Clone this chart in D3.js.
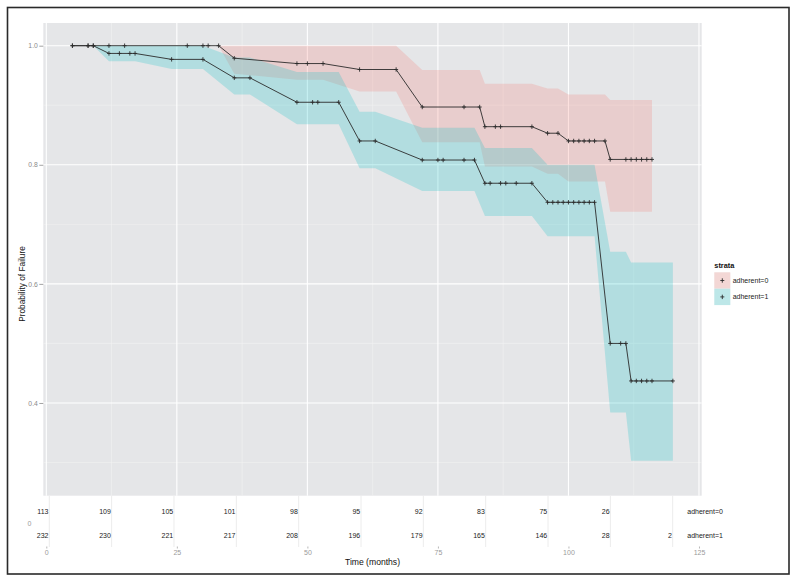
<!DOCTYPE html>
<html><head><meta charset="utf-8">
<script src="https://cdn.jsdelivr.net/npm/d3@7"></script>
<style>
html,body{margin:0;padding:0;background:#fff;}
svg{display:block;font-family:"Liberation Sans",Arial,sans-serif;}
</style></head>
<body>
<svg id="chart" width="798" height="584"></svg>
<script>
// ---------- data ----------
const strata = ["adherent=0", "adherent=1"];
const strataColors = ["#F8766D", "#00BFC4"];

const time0 = [5,8,9,12,15,27,30,31,33,36,48,50,53,60,67,72,80,83,84,86,87,93,96,98,100,101,102,103,104,105,107,108,111,112,113,114,115,116];
const surv0 = [1,1,1,1,1,1,1,1,1,0.979,0.970,0.970,0.970,0.960,0.960,0.897,0.897,0.897,0.864,0.864,0.864,0.864,0.853,0.853,0.840,0.840,0.840,0.840,0.840,0.840,0.840,0.809,0.809,0.809,0.809,0.809,0.809,0.809];
const upper0 = [1,1,1,1,1,1,1,1,1,1,1,1,1,1,1,0.959,0.959,0.959,0.936,0.936,0.936,0.936,0.928,0.928,0.918,0.918,0.918,0.918,0.918,0.918,0.918,0.909,0.909,0.909,0.909,0.909,0.909,0.909];
const lower0 = [1,1,1,1,1,1,1,1,1,0.953,0.943,0.943,0.943,0.923,0.923,0.838,0.838,0.838,0.797,0.797,0.797,0.797,0.785,0.785,0.772,0.772,0.772,0.772,0.772,0.772,0.772,0.721,0.721,0.721,0.721,0.721,0.721,0.721];

const time1 = [5,8,9,12,14,16,17,24,30,36,39,48,51,52,56,60,63,72,75,76,80,82,84,85,87,88,90,93,96,97,98,99,100,101,102,103,104,105,108,110,111,112,113,114,115,116,120];
const surv1 = [1,1,1,0.987,0.987,0.987,0.987,0.977,0.977,0.946,0.946,0.905,0.905,0.905,0.905,0.840,0.840,0.808,0.808,0.808,0.808,0.808,0.769,0.769,0.769,0.769,0.769,0.769,0.737,0.737,0.737,0.737,0.737,0.737,0.737,0.737,0.737,0.737,0.500,0.500,0.500,0.437,0.437,0.437,0.437,0.437,0.437];
const upper1 = [1,1,1,1,1,1,1,1,1,0.980,0.980,0.956,0.956,0.956,0.956,0.889,0.889,0.862,0.862,0.862,0.862,0.862,0.828,0.828,0.828,0.828,0.828,0.828,0.800,0.800,0.800,0.800,0.800,0.800,0.800,0.800,0.800,0.800,0.654,0.654,0.654,0.636,0.636,0.636,0.636,0.636,0.636];
const lower1 = [1,1,1,0.974,0.974,0.974,0.974,0.961,0.961,0.918,0.918,0.868,0.868,0.868,0.868,0.794,0.794,0.756,0.756,0.756,0.756,0.756,0.714,0.714,0.714,0.714,0.714,0.714,0.680,0.680,0.680,0.680,0.680,0.680,0.680,0.680,0.680,0.680,0.384,0.384,0.384,0.303,0.303,0.303,0.303,0.303,0.303];

const riskTimes = [0,12,24,36,48,60,72,84,96,108,120];
const risk0 = [113,109,105,101,98,95,92,83,75,26,null];
const risk1 = [232,230,221,217,208,196,179,165,146,28,2];

const xTicks = [0,25,50,75,100,125];
const yTicks = [0.4,0.6,0.8,1.0];
const xMinor = [12.5,37.5,62.5,87.5,112.5];
const yMinor = [0.3,0.5,0.7,0.9];

// ---------- layout ----------
const svg = d3.select("#chart");
const panel = {left:43.3, right:701.7, top:23, bottom:495.7};

const x = d3.scaleLinear().domain([-0.575, 125.52]).range([panel.left, panel.right]);
const y = d3.scaleLinear().domain([0.2443, 1.0381]).range([panel.bottom, panel.top]);
const xRisk = d3.scaleLinear().domain([0,120]).range([49.3, 672.7]);

// outer frame
svg.append("rect").attr("x",7.5).attr("y",7.5).attr("width",781.5).attr("height",566.5)
  .attr("fill","none").attr("stroke","#2a2a2a").attr("stroke-width",1.6);

// panel bg
svg.append("rect").attr("x",panel.left).attr("y",panel.top)
  .attr("width",panel.right-panel.left).attr("height",panel.bottom-panel.top)
  .attr("fill","#E5E6E8");

const g = svg.append("g");
// minor grid
g.selectAll(".ym").data(yMinor).join("line")
  .attr("x1",panel.left).attr("x2",panel.right)
  .attr("y1",d=>y(d)).attr("y2",d=>y(d))
  .attr("stroke","#F1F1F2").attr("stroke-width",0.6);
g.selectAll(".xm").data(xMinor).join("line")
  .attr("y1",panel.top).attr("y2",panel.bottom)
  .attr("x1",d=>x(d)).attr("x2",d=>x(d))
  .attr("stroke","#F1F1F2").attr("stroke-width",0.6);
// major grid
g.selectAll(".yM").data(yTicks).join("line")
  .attr("x1",panel.left).attr("x2",panel.right)
  .attr("y1",d=>y(d)).attr("y2",d=>y(d))
  .attr("stroke","#ffffff").attr("stroke-width",1.1);
g.selectAll(".xM").data(xTicks).join("line")
  .attr("y1",panel.top).attr("y2",panel.bottom)
  .attr("x1",d=>x(d)).attr("x2",d=>x(d))
  .attr("stroke","#ffffff").attr("stroke-width",1.1);

// series
const series = [
  {t:time0, s:surv0, u:upper0, l:lower0, color:strataColors[0]},
  {t:time1, s:surv1, u:upper1, l:lower1, color:strataColors[1]}
];
const area = d3.area().x(d=>x(d.t)).y0(d=>y(d.l)).y1(d=>y(d.u));
const line = d3.line().x(d=>x(d.t)).y(d=>y(d.s));

series.forEach(sr=>{
  sr.pts = sr.t.map((t,i)=>({t:t, s:sr.s[i], u:sr.u[i], l:sr.l[i]}));
});
series.forEach(sr=>{
  svg.append("path").attr("d",area(sr.pts)).attr("fill",sr.color).attr("fill-opacity",0.22);
});
series.forEach(sr=>{
  svg.append("path").attr("d",line(sr.pts)).attr("fill","none")
    .attr("stroke","#2b2b2b").attr("stroke-width",0.9);
  const plus = svg.append("g");
  plus.selectAll("path").data(sr.pts).join("path")
    .attr("d",d=>{const cx=x(d.t), cy=y(d.s); return `M${cx-2},${cy}H${cx+2}M${cx},${cy-2.2}V${cy+2.2}`;})
    .attr("stroke","#2b2b2b").attr("stroke-width",0.9);
});

// y axis
const yAxis = svg.append("g").attr("transform",`translate(${panel.left},0)`)
  .call(d3.axisLeft(y).tickValues(yTicks).tickFormat(d3.format(".1f")).tickSize(4).tickPadding(1.5));
yAxis.select(".domain").remove();
yAxis.selectAll(".tick line").attr("stroke","#8c8c8c").attr("stroke-width",0.8);
yAxis.selectAll("text").attr("fill","#8a8a8a").style("font-size","6.8px").attr("font-family",null);

// y title
svg.append("text").attr("transform","translate(24.5,284) rotate(-90)")
  .attr("text-anchor","middle").style("font-size","8.3px").attr("fill","#111")
  .text("Probability of Failure");

// risk table grid lines
svg.append("g").selectAll("line").data(riskTimes).join("line")
  .attr("x1",d=>xRisk(d)).attr("x2",d=>xRisk(d)).attr("y1",panel.bottom).attr("y2",547)
  .attr("stroke","#ECECEC").attr("stroke-width",1);

// risk numbers
const rows = [{vals:risk0, y:514, label:strata[0]},{vals:risk1, y:537.5, label:strata[1]}];
rows.forEach(r=>{
  svg.append("g").selectAll("text").data(riskTimes.map((t,i)=>({t, v:r.vals[i]})).filter(d=>d.v!==null))
    .join("text").attr("x",d=>xRisk(d.t)-0.8).attr("y",r.y).attr("text-anchor","end")
    .style("font-size","7px").attr("fill","#222").text(d=>d.v);
  svg.append("text").attr("x",687.3).attr("y",r.y).style("font-size","7px").attr("fill","#222").text(r.label);
});
// stray clipped label at left of risk table
svg.append("text").attr("x",29.5).attr("y",525.5).attr("text-anchor","middle")
  .style("font-size","7px").attr("fill","#9a9a9a").text("0");

// x axis (below risk table)
const xAxis = svg.append("g").attr("transform","translate(0,546.5)")
  .call(d3.axisBottom(x).tickValues(xTicks).tickSize(2).tickPadding(1.5));
xAxis.select(".domain").remove();
xAxis.selectAll(".tick line").attr("stroke","#9a9a9a").attr("stroke-width",0.7);
xAxis.selectAll("text").attr("fill","#9a9a9a").style("font-size","7px").attr("font-family",null);

svg.append("text").attr("x",(panel.left+panel.right)/2).attr("y",565)
  .attr("text-anchor","middle").style("font-size","8.6px").attr("fill","#111").text("Time (months)");

// legend
const lg = svg.append("g");
lg.append("text").attr("x",714.3).attr("y",268.3).style("font-size","7.4px").style("font-weight","bold")
  .attr("fill","#111").text("strata");
strata.forEach((s,i)=>{
  const ky = 272.3 + i*16.4;
  lg.append("rect").attr("x",714.3).attr("y",ky).attr("width",16).attr("height",16.4).attr("fill","#F2F2F2");
  lg.append("rect").attr("x",714.3).attr("y",ky).attr("width",16).attr("height",16.4)
    .attr("fill",strataColors[i]).attr("fill-opacity",0.22);
  const cx = 722.3, cy = ky+8.2;
  lg.append("path").attr("d",`M${cx-2},${cy}H${cx+2}M${cx},${cy-2.2}V${cy+2.2}`)
    .attr("stroke","#2b2b2b").attr("stroke-width",0.9);
  lg.append("text").attr("x",732.7).attr("y",cy+2.5).style("font-size","7px").attr("fill","#222").text(s);
});
</script>
</body></html>
